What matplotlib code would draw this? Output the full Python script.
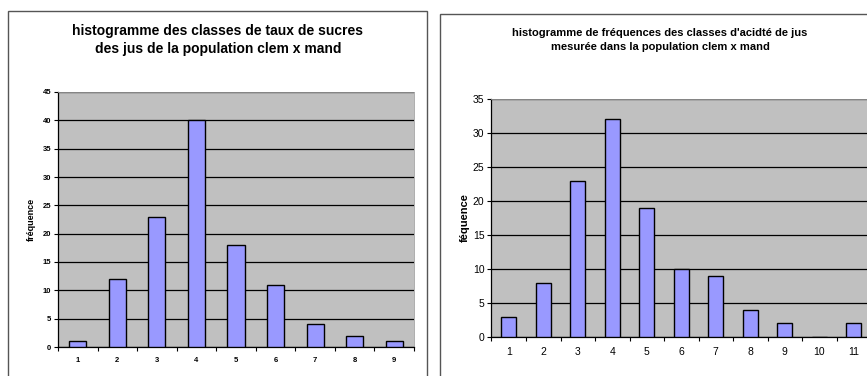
import matplotlib.pyplot as plt
from matplotlib.patches import Rectangle
import numpy as np

# classes and frequencies for the two histograms
sucre_classes = [1, 2, 3, 4, 5, 6, 7, 8, 9]
sucre_freq = [1, 12, 23, 40, 18, 11, 4, 2, 1]

acidite_classes = [1, 2, 3, 4, 5, 6, 7, 8, 9, 10, 11]
acidite_freq = [3, 8, 23, 32, 19, 10, 9, 4, 2, 0, 2]

W, H = 867, 376
plt.rcParams['font.family'] = ['Liberation Sans', 'DejaVu Sans']

fig = plt.figure(figsize=(W / 100, H / 100), dpi=100)


def px_axes(x0, y0, x1, y1):
    """Axes placed with pixel coordinates measured from the top left."""
    ax = fig.add_axes([x0 / W, 1 - y1 / H, (x1 - x0) / W, (y1 - y0) / H])
    ax.set_zorder(2)
    return ax


def frame(x0, y0, x1, y1):
    fig.patches.append(Rectangle((x0 / W, 1 - y1 / H), (x1 - x0) / W,
                                 (y1 - y0) / H, transform=fig.transFigure,
                                 facecolor='white', edgecolor='#555555',
                                 linewidth=1.0, zorder=-1))


def histo(ax, classes, freq, ymax, step, tick_fs, bold_ticks):
    x = np.arange(len(classes))
    ax.set_facecolor('#c0c0c0')
    ax.bar(x, freq, width=0.43, color='#9999ff', edgecolor='black',
           linewidth=1.0, zorder=3)
    ax.set_xlim(-0.5, len(classes) - 0.5)
    ax.set_ylim(0, ymax)
    ax.set_yticks(np.arange(0, ymax + 1, step))
    ax.yaxis.grid(True, color='black', linewidth=0.9)
    ax.set_axisbelow(True)
    ax.set_xticks(x)
    ax.set_xticklabels([str(c) for c in classes])
    ax.set_xticks(np.arange(-0.5, len(classes)), minor=True)
    ax.tick_params(axis='x', which='major', length=0, pad=7,
                   labelsize=tick_fs)
    ax.tick_params(axis='x', which='minor', length=3, width=0.8,
                   direction='out')
    ax.tick_params(axis='y', length=3, width=0.8, pad=2, labelsize=tick_fs)
    weight = 'bold' if bold_ticks else 'normal'
    for lab in ax.get_xticklabels() + ax.get_yticklabels():
        lab.set_fontweight(weight)
    for side in ('top', 'right'):
        ax.spines[side].set_color('#a0a0a0')
        ax.spines[side].set_linewidth(0.6)
    for side in ('left', 'bottom'):
        ax.spines[side].set_color('black')
        ax.spines[side].set_linewidth(0.9)


# left chart: sugar content
frame(8, 11, 427, 380)
ax1 = px_axes(58, 92, 414, 347)
histo(ax1, sucre_classes, sucre_freq, 45, 5, 5.5, True)
ax1.set_ylabel('fréquence', fontsize=6.5, fontweight='bold', labelpad=5)
fig.text(218 / W, 1 - 24 / H,
         'histogramme des classes de taux de sucres\n'
         'des jus de la population clem x mand',
         ha='center', va='top', fontsize=10, fontweight='bold',
         linespacing=1.35)

# right chart: juice acidity
frame(440, 14, 880, 380)
ax2 = px_axes(491.5, 99, 871, 337)
histo(ax2, acidite_classes, acidite_freq, 35, 5, 7.5, False)
ax2.set_ylabel('féquence', fontsize=8, fontweight='bold', labelpad=2)
fig.text(660 / W, 1 - 28 / H,
         "histogramme de fréquences des classes d'acidté de jus\n"
         'mesurée dans la population clem x mand',
         ha='center', va='top', fontsize=8, fontweight='bold',
         linespacing=1.55)

fig.savefig('out.png', dpi=100)
